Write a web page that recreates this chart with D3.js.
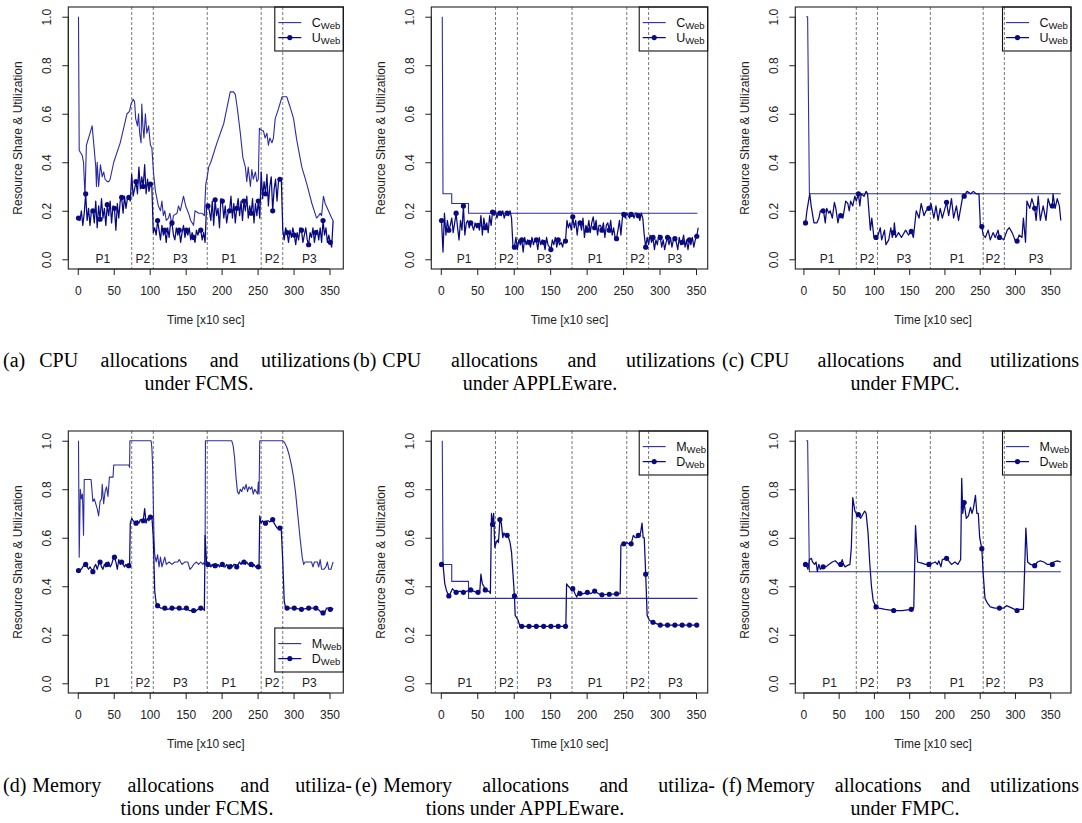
<!DOCTYPE html>
<html><head><meta charset="utf-8">
<script src="https://cdn.jsdelivr.net/npm/d3@7"></script>
<style>
body{margin:0;background:#fff}
svg{display:block}
.ax text{font-family:"Liberation Sans",Arial,sans-serif;font-size:12px;fill:#222}
</style>
</head><body>
<svg id="c" width="1082" height="823"></svg>
<script>
// ---------------- DATA ----------------
const xTicks = [0, 50, 100, 150, 200, 250, 300, 350];
const yTicks = [0, 0.2, 0.4, 0.6, 0.8, 1.0];
const phaseBounds = [75, 105, 180, 255, 285];
const phaseNames = ["P1", "P2", "P3", "P1", "P2", "P3"];

// (a) FCMS CPU: allocation C_Web as [time, share]
const allocA = [[1,1.0],[2,0.45],[3.7,0.44],[6,0.43],[8,0.40],[10,0.26],[12,0.47],[16,0.51],[20,0.55],[23,0.45],[25,0.38],[26,0.30],[27,0.40],[29,0.30],[31.5,0.39],[34,0.34],[36,0.36],[38,0.33],[41,0.32],[43,0.32],[45,0.33],[50,0.40],[59,0.48],[68.5,0.60],[72,0.61],[74,0.64],[77,0.66],[79,0.65],[80.5,0.58],[83,0.55],[84.5,0.60],[86,0.52],[88,0.48],[89,0.64],[90.5,0.55],[92,0.50],[94,0.60],[96,0.52],[98.5,0.55],[101,0.47],[103,0.46],[105.5,0.35],[108,0.28],[110,0.25],[112,0.22],[115,0.20],[117,0.24],[119,0.18],[121,0.20],[123,0.16],[126,0.17],[128,0.19],[131,0.14],[133,0.18],[138,0.19],[140,0.22],[142.5,0.20],[147,0.26],[150,0.22],[154,0.19],[157,0.16],[161,0.14],[163,0.20],[168,0.19],[172.5,0.19],[176,0.18],[178,0.31],[180,0.34],[182,0.38],[185,0.40],[193.5,0.48],[203,0.56],[212,0.69],[216.5,0.69],[219,0.68],[221.5,0.63],[226,0.52],[229.5,0.42],[233,0.38],[235,0.32],[237,0.38],[240,0.30],[242,0.37],[244,0.33],[247,0.36],[249,0.32],[251,0.33],[252.5,0.54],[256,0.53],[258,0.53],[260.5,0.50],[263,0.52],[265,0.47],[267,0.50],[270,0.48],[272,0.50],[274.5,0.58],[279,0.62],[284,0.67],[290.5,0.67],[295,0.63],[300,0.58],[304.5,0.49],[311.5,0.38],[318.5,0.31],[325.5,0.23],[332,0.17],[335,0.18],[337,0.19],[339,0.18],[341.5,0.26],[344,0.23],[348.5,0.20],[353,0.17],[355,0.16]];
// (a) utilization U_Web, sampled every 2 time units starting at 1
const utilAStart = 1, utilAStep = 2;
const utilA = [
0.17,0.16,0.20,0.14,0.19,0.27,0.16,0.21,0.14,0.20,
0.20,0.15,0.24,0.13,0.22,0.165,0.25,0.17,0.21,0.14,
0.225,0.18,0.24,0.15,0.22,0.21,0.12,0.23,0.17,0.24,
0.255,0.19,0.26,0.21,0.25,0.255,0.24,0.35,0.26,0.29,
0.32,0.27,0.38,0.29,0.34,0.30,0.39,0.27,0.33,0.28,
0.31,0.30,0.11,0.13,0.10,0.16,0.12,0.08,0.14,0.10,
0.12,0.07,0.13,0.09,0.15,0.15,0.10,0.08,0.13,0.10,
0.12,0.07,0.11,0.14,0.09,0.12,0.10,0.13,0.08,0.11,
0.09,0.07,0.12,0.10,0.12,0.12,0.08,0.11,0.07,0.22,
0.22,0.20,0.16,0.24,0.14,0.245,0.18,0.21,0.13,0.25,
0.24,0.17,0.22,0.15,0.19,0.20,0.26,0.17,0.23,0.15,
0.21,0.25,0.18,0.24,0.16,0.24,0.20,0.26,0.17,0.22,
0.19,0.25,0.15,0.23,0.18,0.24,0.17,0.36,0.25,0.32,
0.27,0.35,0.22,0.30,0.34,0.20,0.29,0.33,0.24,0.32,
0.33,0.33,0.12,0.08,0.13,0.11,0.07,0.12,0.09,0.13,
0.10,0.06,0.11,0.08,0.13,0.12,0.07,0.10,0.13,0.08,
0.06,0.11,0.09,0.13,0.07,0.11,0.12,0.08,0.13,0.07,
0.16,0.10,0.13,0.07,0.10,0.07,0.05,0.16];

// (b) APPLEware CPU
const allocB = [[2,1.0],[3,0.27],[15,0.27],[15,0.23],[38,0.23],[38,0.19],[352,0.19]];
const utilBStart = 1, utilBStep = 2;
const utilB = [
0.16,0.03,0.19,0.10,0.16,0.12,0.14,0.17,0.11,0.15,
0.19,0.13,0.08,0.16,0.12,0.22,0.10,0.15,0.16,0.13,
0.15,0.14,0.12,0.15,0.13,0.14,0.12,0.18,0.10,0.17,
0.13,0.15,0.11,0.18,0.14,0.195,0.18,0.20,0.17,0.19,
0.19,0.18,0.20,0.17,0.19,0.19,0.18,0.20,0.17,0.05,
0.05,0.09,0.04,0.08,0.06,0.08,0.03,0.09,0.06,0.08,
0.07,0.05,0.09,0.06,0.08,0.08,0.04,0.09,0.06,0.08,
0.07,0.04,0.09,0.06,0.05,0.04,0.08,0.06,0.09,0.05,
0.08,0.06,0.07,0.05,0.08,0.075,0.16,0.13,0.15,0.12,
0.175,0.13,0.16,0.10,0.15,0.15,0.12,0.17,0.09,0.14,
0.12,0.16,0.11,0.15,0.175,0.13,0.16,0.10,0.14,0.14,
0.12,0.15,0.09,0.14,0.15,0.12,0.16,0.10,0.13,0.09,
0.085,0.12,0.16,0.10,0.17,0.185,0.17,0.19,0.18,0.17,
0.185,0.19,0.17,0.19,0.19,0.18,0.16,0.19,0.17,0.10,
0.05,0.09,0.06,0.10,0.07,0.09,0.04,0.08,0.06,0.10,
0.09,0.05,0.08,0.04,0.07,0.09,0.06,0.09,0.05,0.08,
0.085,0.07,0.04,0.09,0.06,0.07,0.10,0.05,0.08,0.04,
0.08,0.06,0.09,0.05,0.08,0.095,0.13];

// (c) FMPC CPU
const allocC = [[4,1.0],[6,1.0],[8.5,0.27],[365,0.27]];
const utilC = [[3,0.15],[5,0.20],[9,0.27],[11,0.22],[15,0.15],[19,0.15],[22,0.17],[24,0.20],[28,0.20],[29,0.19],[31,0.15],[33,0.21],[36,0.19],[38,0.20],[41,0.17],[44,0.235],[46,0.21],[49,0.15],[51,0.18],[53,0.18],[56,0.17],[60,0.24],[63,0.23],[65,0.20],[67,0.24],[70,0.22],[73,0.26],[75,0.24],[78,0.27],[80,0.22],[82,0.27],[86,0.26],[89,0.28],[91,0.27],[95,0.12],[97,0.17],[100,0.09],[103,0.09],[106,0.10],[109,0.13],[111,0.08],[115,0.12],[117,0.06],[121,0.08],[124,0.13],[126,0.09],[128,0.11],[129,0.15],[131,0.09],[135,0.11],[139,0.09],[145,0.12],[149,0.10],[153,0.115],[156,0.09],[160,0.20],[164,0.17],[167,0.23],[171,0.18],[174,0.20],[178,0.21],[181,0.23],[185,0.17],[188,0.22],[191,0.16],[194,0.21],[197,0.17],[203,0.235],[206,0.18],[210,0.25],[213,0.17],[217,0.22],[220,0.16],[223,0.21],[226,0.26],[228,0.26],[232,0.28],[237,0.27],[241,0.28],[245,0.27],[249,0.27],[251,0.135],[253,0.135],[255,0.10],[258,0.09],[262,0.12],[265,0.08],[269,0.11],[272,0.09],[276,0.12],[278,0.09],[280,0.09],[284,0.08],[289,0.12],[292,0.13],[296,0.11],[300,0.08],[303,0.075],[306,0.10],[310,0.09],[312,0.17],[315,0.07],[317,0.24],[321,0.21],[324,0.25],[328,0.21],[330,0.16],[333,0.26],[336,0.16],[340,0.22],[344,0.16],[347,0.25],[350,0.22],[353,0.22],[354,0.27],[357,0.21],[360,0.25],[363,0.22],[365,0.16]];

// (d) FCMS memory
const allocD = [[1,1.0],[2,0.52],[3.5,0.80],[5,0.76],[6.5,0.78],[8,0.61],[9,0.84],[18.5,0.84],[21,0.75],[23,0.76],[25,0.74],[27,0.72],[29,0.69],[31,0.75],[33,0.76],[34,0.82],[36,0.74],[38,0.79],[40,0.81],[42,0.77],[44,0.85],[49,0.85],[50,0.90],[71,0.90],[72,0.89],[72.5,1.0],[102,1.0],[103,0.97],[104,0.90],[105,0.75],[106,0.60],[107,0.53],[109,0.50],[111,0.53],[113,0.48],[115,0.52],[117,0.48],[119,0.50],[121,0.52],[123,0.49],[127,0.50],[131,0.49],[135,0.50],[139,0.50],[141,0.51],[145,0.49],[149,0.50],[153,0.50],[156,0.47],[159,0.48],[161,0.49],[165,0.50],[168,0.49],[171,0.50],[174,0.49],[176,0.50],[177,0.49],[177.5,1.0],[214,1.0],[216,0.98],[218,0.93],[220,0.85],[222,0.79],[224,0.78],[226,0.80],[228,0.79],[230,0.81],[232,0.80],[234,0.82],[236,0.79],[238,0.81],[240,0.80],[242,0.81],[244,0.78],[246,0.80],[248,0.79],[250,0.78],[251,0.83],[252,0.78],[253,1.0],[285,1.0],[288,0.99],[291,0.97],[294,0.94],[297,0.90],[300,0.85],[303,0.78],[306,0.69],[309,0.60],[312,0.52],[314,0.49],[316,0.50],[320,0.50],[325,0.50],[327,0.48],[329,0.50],[333,0.50],[335,0.48],[337,0.51],[339,0.47],[342,0.47],[345,0.48],[347,0.50],[349,0.47],[352,0.47],[354,0.49],[355,0.50]];
const utilD = [[1,0.465],[3,0.47],[5,0.47],[7,0.48],[9,0.49],[11,0.49],[13,0.48],[15,0.47],[17,0.48],[19,0.47],[21,0.46],[23,0.48],[25,0.49],[27,0.47],[29,0.49],[31,0.50],[33,0.48],[35,0.47],[37,0.49],[39,0.48],[41,0.49],[43,0.50],[45,0.48],[47,0.49],[49,0.51],[51,0.52],[53,0.50],[55,0.47],[57,0.51],[59,0.49],[61,0.50],[63,0.49],[65,0.48],[67,0.49],[69,0.48],[71,0.485],[72,0.48],[73,0.66],[75,0.68],[77,0.67],[79,0.665],[81,0.66],[83,0.67],[85,0.66],[87,0.675],[89,0.67],[91,0.67],[93,0.72],[95,0.66],[97,0.68],[99,0.67],[101,0.685],[103,0.69],[105,0.60],[107,0.38],[109,0.33],[111,0.32],[115,0.31],[121,0.31],[125,0.305],[131,0.31],[135,0.31],[141,0.31],[145,0.305],[151,0.31],[155,0.30],[161,0.30],[163,0.295],[167,0.305],[171,0.31],[175,0.305],[176,0.30],[177,0.61],[179,0.50],[181,0.49],[183,0.49],[185,0.48],[187,0.49],[189,0.48],[191,0.485],[193,0.48],[195,0.49],[197,0.48],[199,0.49],[201,0.49],[203,0.48],[205,0.48],[207,0.49],[209,0.48],[211,0.48],[213,0.49],[215,0.48],[217,0.49],[219,0.49],[221,0.48],[223,0.49],[225,0.50],[227,0.49],[229,0.50],[231,0.50],[233,0.49],[235,0.50],[237,0.49],[239,0.49],[241,0.49],[243,0.48],[245,0.49],[247,0.48],[249,0.48],[251,0.48],[252,0.48],[253,0.69],[255,0.66],[257,0.67],[259,0.66],[261,0.66],[263,0.67],[265,0.67],[267,0.665],[269,0.67],[271,0.675],[273,0.66],[275,0.65],[277,0.64],[279,0.64],[281,0.64],[283,0.63],[285,0.50],[287,0.34],[289,0.31],[291,0.31],[301,0.31],[311,0.305],[321,0.31],[331,0.31],[336,0.30],[339,0.29],[343,0.29],[346,0.31],[349,0.31],[353,0.30],[355,0.31]];

// (e) APPLEware memory
const allocE = [[2,1.0],[3,0.49],[15,0.49],[15,0.42],[38,0.42],[38,0.35],[352,0.35]];
const utilE = [[1,0.49],[3,0.49],[5.5,0.41],[8,0.38],[11,0.36],[13,0.37],[16,0.39],[19,0.38],[21,0.375],[26,0.38],[31,0.375],[36,0.38],[41,0.385],[45,0.38],[49,0.375],[51,0.375],[53.5,0.38],[55,0.45],[57,0.41],[59,0.40],[61,0.385],[63,0.38],[66,0.38],[68,0.37],[69.5,0.70],[71,0.655],[72.5,0.70],[74,0.56],[76,0.58],[77.5,0.59],[79,0.58],[80,0.62],[81,0.675],[83,0.66],[85,0.60],[86.5,0.62],[88.5,0.61],[91,0.61],[93,0.60],[95,0.58],[97,0.54],[99,0.45],[101,0.36],[102,0.28],[104,0.27],[106,0.26],[108.5,0.235],[171.5,0.235],[172.5,0.41],[175,0.40],[178,0.39],[181,0.39],[184,0.37],[186.5,0.355],[189,0.38],[191,0.37],[196,0.37],[201,0.375],[206,0.37],[211,0.38],[216,0.37],[221,0.365],[246,0.37],[247,0.57],[251,0.575],[255,0.58],[258,0.575],[261,0.575],[264,0.61],[267,0.60],[269,0.60],[271,0.61],[274,0.62],[276,0.66],[277.5,0.60],[279,0.60],[281,0.45],[283,0.28],[286,0.26],[289,0.255],[292,0.25],[301,0.24],[352,0.24]];

// (f) FMPC memory
const allocF = [[4,1.0],[6,1.0],[8.5,0.46],[365,0.46]];
const utilF = [[3,0.49],[5,0.48],[6.5,0.47],[8.6,0.51],[11.3,0.515],[13,0.50],[16,0.49],[18,0.50],[19.8,0.46],[22,0.49],[24,0.47],[28,0.48],[32,0.48],[36,0.49],[41,0.50],[45,0.505],[47,0.50],[50,0.49],[53,0.49],[55,0.51],[57,0.49],[59,0.48],[62,0.485],[66,0.49],[68,0.56],[70,0.765],[73,0.71],[75,0.70],[78,0.695],[81,0.68],[83,0.69],[87,0.71],[89,0.70],[91.7,0.62],[94,0.50],[96.5,0.40],[99,0.34],[103,0.315],[107,0.31],[116,0.305],[128,0.30],[140,0.30],[153,0.305],[156.5,0.31],[159,0.65],[162,0.50],[168,0.495],[173,0.49],[178,0.49],[183,0.495],[187,0.50],[190,0.49],[192,0.505],[195,0.48],[197,0.51],[203,0.515],[206,0.505],[210,0.49],[215,0.50],[219,0.49],[221,0.50],[223,0.51],[224.5,0.845],[226,0.70],[228,0.745],[231,0.68],[234,0.69],[237,0.725],[239,0.70],[241,0.72],[244,0.775],[246,0.70],[248,0.70],[250,0.60],[253,0.555],[255,0.45],[257.5,0.35],[261,0.33],[265,0.315],[271.5,0.31],[278,0.31],[284,0.31],[288,0.32],[292,0.315],[296,0.31],[303,0.30],[306,0.305],[312,0.305],[315.5,0.64],[318,0.50],[322,0.49],[328,0.485],[332,0.50],[336,0.505],[341,0.50],[346,0.49],[353,0.49],[355,0.50],[360,0.505],[365,0.50]];

// marker sample times
const marks10 = [1,11,21,31,41,51,61,71,81,91,101,111,121,131,141,151,161,171,181,191,201,211,221,231,241,251,261,271,281,291,301,311,321,331,341,351];
const marks25 = [3,28,53,78,103,128,153,178,203,228,253,278,303,328,353];

// phase label centres (time units)
const labelsA = [35, 90.5, 142.5, 210, 270, 322];
const labelsB = [32, 90, 142, 211.5, 270, 321];
const labelsC = [33.5, 90.3, 142.4, 218, 268.6, 330];
const labelsD = [34, 90.5, 142.5, 210, 270, 322];
const labelsE = [33, 90, 142, 211.5, 270, 321.5];
const labelsF = [37, 90.3, 142.4, 218, 268.6, 330];

const capLabel = ["(a)", "(b)", "(c)", "(d)", "(e)", "(f)"];
const capLine1 = ["CPU allocations and utilizations", "CPU allocations and utilizations", "CPU allocations and utilizations",
                  "Memory allocations and utiliza-", "Memory allocations and utiliza-", "Memory allocations and utilizations"];
const capLine2 = ["under FCMS.", "under APPLEware.", "under FMPC.", "tions under FCMS.", "tions under APPLEware.", "under FMPC."];

// ---------------- LAYOUT ----------------
const colL = [68.3, 431.3, 795.3], colR = [343.3, 707.7, 1071];
const rowT = [7, 431], rowB = [269, 693];
const capY1 = [367, 792], capY2 = [390, 815];
const capLabX = [[3, 353, 722], [3, 355, 722]];
const capGap = [[14, 6, 6], [6, 6, 4]];
const capX1 = [[350, 715, 1079], [352, 715, 1079]];
const capC2 = [[199, 540, 905], [197, 525, 905]];
const capFont = 20;
const utilColor = "#0a0a80", allocColor = "#2c2ca6";

const toPairs = (arr, s, st) => arr.map((v, i) => [s + i * st, v]);

const panels = [
  {col:0,row:0,xr:[1,355],alloc:allocA,util:toPairs(utilA,utilAStart,utilAStep),marks:marks10,labels:labelsA,leg:["C","U"],legBottom:false},
  {col:1,row:0,xr:[1,352],alloc:allocB,util:toPairs(utilB,utilBStart,utilBStep),marks:marks10,labels:labelsB,leg:["C","U"],legBottom:false},
  {col:2,row:0,xr:[3,365],alloc:allocC,util:utilC,marks:marks25,labels:labelsC,leg:["C","U"],legBottom:false},
  {col:0,row:1,xr:[1,355],alloc:allocD,util:utilD,marks:marks10,labels:labelsD,leg:["M","D"],legBottom:true},
  {col:1,row:1,xr:[1,352],alloc:allocE,util:utilE,marks:marks10,labels:labelsE,leg:["M","D"],legBottom:false},
  {col:2,row:1,xr:[3,365],alloc:allocF,util:utilF,marks:marks25,labels:labelsF,leg:["M","D"],legBottom:false}
];

const svg = d3.select("#c");
svg.append("rect").attr("width",1082).attr("height",823).attr("fill","#fff");

function interp(pairs, xv) {
  const i = d3.bisector(d => d[0]).left(pairs, xv);
  if (i <= 0) return pairs[0][1];
  if (i >= pairs.length) return pairs[pairs.length - 1][1];
  const a = pairs[i - 1], b = pairs[i];
  if (b[0] === xv) return b[1];
  return a[1] + (xv - a[0]) / (b[0] - a[0]) * (b[1] - a[1]);
}

const serif = '"Liberation Serif","Times New Roman",serif';

panels.forEach((p, k) => {
  const L = colL[p.col], R = colR[p.col], T = rowT[p.row], B = rowB[p.row];
  const span = p.xr[1] - p.xr[0];
  const x = d3.scaleLinear().domain([p.xr[0] - 0.04 * span, p.xr[1] + 0.04 * span]).range([L, R]);
  const y = d3.scaleLinear().domain([-0.04, 1.04]).range([B, T]);
  const g = svg.append("g");

  // phase separators
  g.selectAll(".ph").data(phaseBounds).join("line")
    .attr("x1", d => x(d)).attr("x2", d => x(d)).attr("y1", T).attr("y2", B)
    .attr("stroke", "#666").attr("stroke-width", 0.9).attr("stroke-dasharray", "3,2");

  // phase labels
  g.selectAll(".pl").data(p.labels).join("text")
    .attr("x", d => x(d)).attr("y", y(0)).attr("text-anchor", "middle").attr("dominant-baseline", "central")
    .style("font-family", '"Liberation Sans",Arial,sans-serif').style("font-size", "12px").attr("fill", "#222")
    .text((d, i) => phaseNames[i]);

  const line = d3.line().x(d => x(d[0])).y(d => y(d[1]));
  g.append("path").datum(p.alloc).attr("d", line).attr("fill", "none")
    .attr("stroke", allocColor).attr("stroke-width", 1.1).attr("stroke-linejoin", "round");
  g.append("path").datum(p.util).attr("d", line).attr("fill", "none")
    .attr("stroke", utilColor).attr("stroke-width", 1.25).attr("stroke-linejoin", "round");
  g.selectAll(".mk").data(p.marks).join("circle")
    .attr("cx", d => x(d)).attr("cy", d => y(interp(p.util, d))).attr("r", 2.6).attr("fill", utilColor);

  // box
  g.append("rect").attr("x", L).attr("y", T).attr("width", R - L).attr("height", B - T)
    .attr("fill", "none").attr("stroke", "#222").attr("stroke-width", 1.1);

  // axes
  const xa = g.append("g").attr("class", "ax").attr("transform", `translate(0,${B})`)
    .call(d3.axisBottom(x).tickValues(xTicks).tickSize(6).tickSizeOuter(0).tickPadding(5));
  xa.select(".domain").attr("d", `M${x(0)},0H${x(350)}`).attr("stroke", "#222");
  xa.selectAll(".tick line").attr("stroke", "#222");
  xa.selectAll("text").attr("y", 22).attr("dy", null).attr("dominant-baseline", "central");

  const ya = g.append("g").attr("class", "ax").attr("transform", `translate(${L},0)`)
    .call(d3.axisLeft(y).tickValues(yTicks).tickFormat(d3.format(".1f")).tickSize(6).tickSizeOuter(0));
  ya.select(".domain").attr("d", `M0,${y(0)}V${y(1)}`).attr("stroke", "#222");
  ya.selectAll(".tick line").attr("stroke", "#222");
  ya.selectAll("text").attr("x", 0).attr("dy", null).attr("text-anchor", "middle")
    .attr("dominant-baseline", "central").attr("transform", "translate(-21.6,0) rotate(-90)");

  // axis titles
  g.append("text").attr("x", (L + R) / 2).attr("y", B + 51).attr("text-anchor", "middle").attr("dominant-baseline", "central")
    .style("font-family", '"Liberation Sans",Arial,sans-serif').style("font-size", "12px").attr("fill", "#222")
    .text("Time [x10 sec]");
  g.append("text").attr("transform", `translate(${L - 50},${(T + B) / 2}) rotate(-90)`)
    .attr("text-anchor", "middle").attr("dominant-baseline", "central")
    .style("font-family", '"Liberation Sans",Arial,sans-serif').style("font-size", "12px").attr("fill", "#222")
    .text("Resource Share & Utilization");

  // legend
  const lw = 68.5, lh = 44;
  const lx = R - lw, ly = p.legBottom ? B - 65 : T;
  const lg = g.append("g").attr("transform", `translate(${lx},${ly})`);
  lg.append("rect").attr("width", lw).attr("height", lh).attr("fill", "none").attr("stroke", "#111").attr("stroke-width", 1.1);
  [0, 1].forEach(j => {
    const yy = 15.6 + j * 15;
    lg.append("line").attr("x1", 3.5).attr("x2", 26.5).attr("y1", yy).attr("y2", yy)
      .attr("stroke", j === 0 ? allocColor : utilColor).attr("stroke-width", j === 0 ? 1.1 : 1.25);
    if (j === 1) lg.append("circle").attr("cx", 15).attr("cy", yy).attr("r", 2.6).attr("fill", utilColor);
    const t = lg.append("text").attr("x", 37).attr("y", yy + 4.3)
      .style("font-family", '"Liberation Sans",Arial,sans-serif').style("font-size", "12.5px").attr("fill", "#111");
    t.append("tspan").text(p.leg[j]);
    t.append("tspan").attr("dy", 2.5).style("font-size", "9.5px").text("Web");
  });

  // captions: label, justified first line, centred second line
  const r = p.row, c = p.col;
  const lab = svg.append("text").attr("x", capLabX[r][c]).attr("y", capY1[r])
    .style("font-family", serif).style("font-size", capFont + "px").attr("fill", "#000")
    .text(capLabel[k]);
  const x0 = capLabX[r][c] + lab.node().getComputedTextLength() + capGap[r][c];
  const t1 = svg.append("text").attr("x", x0).attr("y", capY1[r])
    .style("font-family", serif).style("font-size", capFont + "px").attr("fill", "#000")
    .text(capLine1[k]);
  const nat = t1.node().getComputedTextLength();
  const nsp = capLine1[k].split(" ").length - 1;
  const target = capX1[r][c] - x0;
  if (nsp > 0) {
    const extra = (target - nat) / nsp;
    if (extra >= 0) t1.style("word-spacing", extra + "px");
    else t1.attr("textLength", target).attr("lengthAdjust", "spacingAndGlyphs");
  }
  svg.append("text").attr("x", capC2[r][c]).attr("y", capY2[r]).attr("text-anchor", "middle")
    .style("font-family", serif).style("font-size", capFont + "px").attr("fill", "#000")
    .text(capLine2[k]);
});
</script>
</body></html>
